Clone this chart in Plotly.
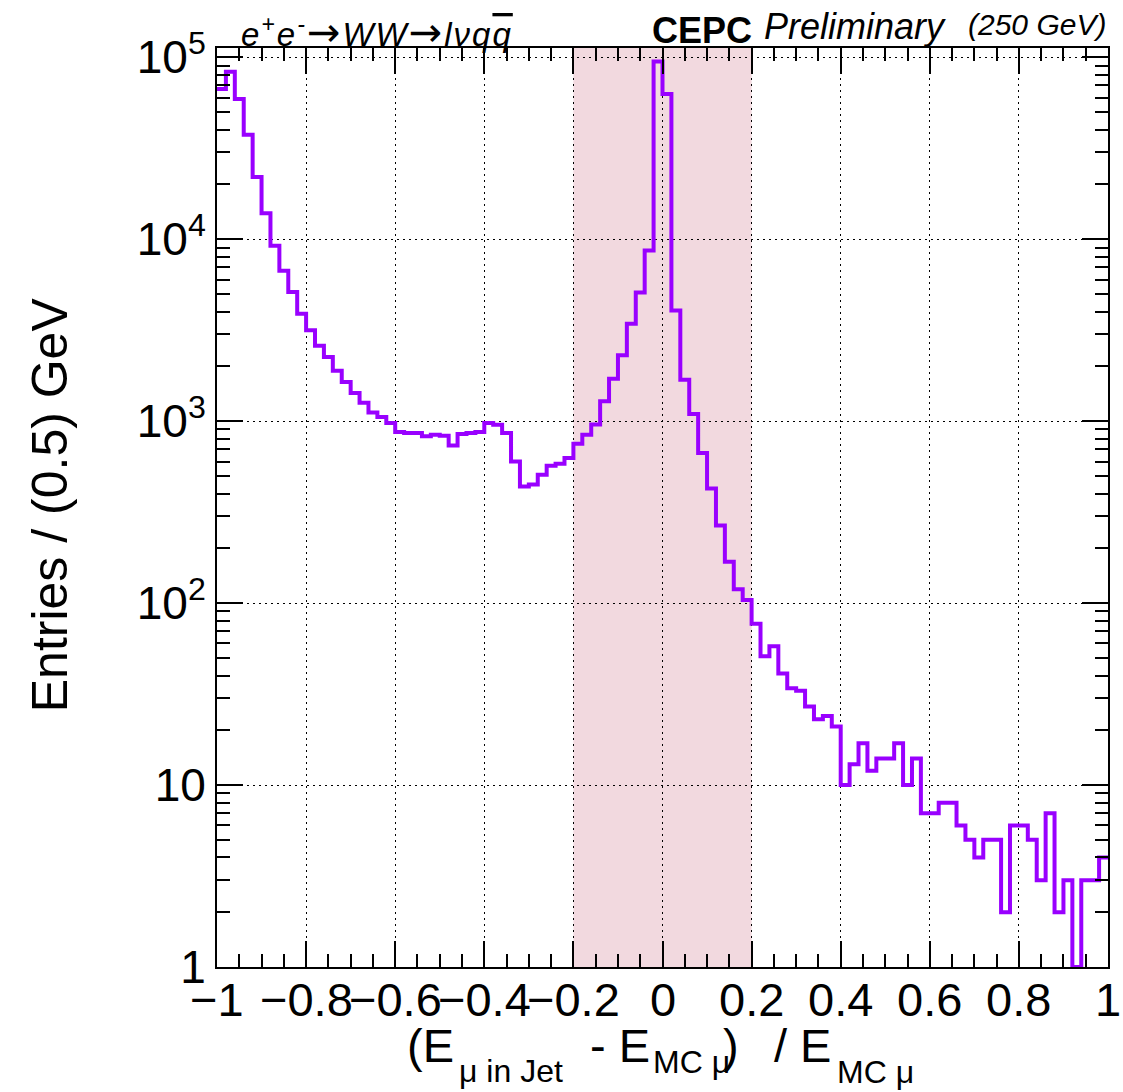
import numpy as np
import plotly.graph_objects as go

# ---------------- data ----------------
x_min, x_max, n_bins = -1.0, 1.0, 100
counts = [
    66900, 83200, 58900, 37500, 22000, 13900, 9200, 6710, 5130, 3900,
    3160, 2600, 2255, 1893, 1640, 1428, 1264, 1117, 1055, 977,
    873, 861, 861, 826, 843, 832, 736, 851, 861, 873,
    977, 957, 861, 601, 438, 448, 508, 569, 584, 628,
    752, 843, 960, 1285, 1713, 2300, 3435, 5100, 8670, 94800,
    62800, 4060, 1690, 1095, 668, 426, 267, 169, 119, 104,
    77, 51, 58, 41, 34, 33, 27, 23, 24, 21,
    10, 13, 17, 12, 14, 14, 17, 10, 14, 7,
    7, 8, 8, 6, 5, 4, 5, 5, 2, 6,
    6, 5, 3, 7, 2, 3, 1, 3, 3, 4,
]
band_lo, band_hi = -0.2, 0.2
x_tickvals = [-1, -0.8, -0.6, -0.4, -0.2, 0, 0.2, 0.4, 0.6, 0.8, 1]
x_ticktext = ["\u22121", "\u22120.8", "\u22120.6", "\u22120.4", "\u22120.2", "0",
              "0.2", "0.4", "0.6", "0.8", "1"]
y_tickvals = [1, 10, 100, 1000, 10000, 100000]
y_ticktext = ["1", "10", "10<sup>2</sup>", "10<sup>3</sup>", "10<sup>4</sup>", "10<sup>5</sup>"]

edges = np.linspace(x_min, x_max, n_bins + 1)
xs = list(edges)
ys = list(counts) + [counts[-1]]

# ---------------- layout geometry ----------------
W, H = 1123, 1092
L, R, T, B = 216.7, 1108.0, 47.7, 967.5
FONT = "Liberation Sans, Arial, Helvetica, sans-serif"

def px(xp):
    return (xp - L) / (R - L)

def py(yp):
    return (B - yp) / (B - T)

fig = go.Figure()
fig.add_trace(go.Scatter(
    x=xs, y=ys, mode="lines",
    line=dict(shape="hv", color="#9900ff", width=4),
    showlegend=False, hoverinfo="skip",
))

fig.add_shape(type="rect", xref="x", yref="paper", x0=band_lo, x1=band_hi, y0=0, y1=1,
              fillcolor="#f2d9df", line=dict(width=0), layer="below")

minor_x = [round(v, 4) for v in np.arange(-1.0, 1.0001, 0.05)]
minor_y = [k * 10 ** d for d in range(0, 5) for k in range(2, 10)]

fig.update_xaxes(
    range=[x_min, x_max], tickvals=x_tickvals, ticktext=x_ticktext,
    showticklabels=False, automargin=False,
    ticks="inside", ticklen=26, tickwidth=1.5, tickcolor="black",
    showline=True, linecolor="black", linewidth=2, mirror="allticks",
    showgrid=True, gridcolor="black", gridwidth=1, griddash="2px,4px",
    zeroline=False,
    minor=dict(tickvals=minor_x, ticks="inside", ticklen=13, tickwidth=1.5,
               tickcolor="black", showgrid=False),
)
fig.update_yaxes(
    type="log", range=[0, 5.051], tickvals=y_tickvals, ticktext=y_ticktext,
    automargin=False,
    ticks="inside", ticklen=26, tickwidth=1.5, tickcolor="black",
    showline=True, linecolor="black", linewidth=2, mirror="allticks",
    showgrid=True, gridcolor="black", gridwidth=1, griddash="2px,4px",
    zeroline=False,
    tickfont=dict(family=FONT, size=46, color="black"),
    minor=dict(tickvals=minor_y, ticks="inside", ticklen=13, tickwidth=1.5,
               tickcolor="black", showgrid=False),
)

ann = []
# x tick labels (placed on the x data scale)
for v, t in zip(x_tickvals, x_ticktext):
    ann.append(dict(text=t, x=v, xref="x", y=py(1000), yref="paper",
                    xanchor="center", yanchor="middle", showarrow=False,
                    font=dict(family=FONT, size=47, color="black")))

ARW = "<span style='font-family:DejaVu Sans;font-size:40px'>\u2192</span>"
top = []
top.append(dict(text="<span style='letter-spacing:2px'><i>e<sup>+</sup>e<sup>-</sup>" + ARW + "WW" + ARW +
                "l\u03bdq<span style='text-decoration:overline'>q</span></i></span>",
                x=px(239), y=py(32), xanchor="left", yanchor="middle",
                font=dict(family=FONT, size=33, color="black")))
top.append(dict(text="<b>CEPC</b>", x=px(650), y=py(30), xanchor="left", yanchor="middle",
                font=dict(family=FONT, size=36, color="black")))
top.append(dict(text="<i>Preliminary</i>", x=px(762), y=py(26), xanchor="left", yanchor="middle",
                font=dict(family=FONT, size=36, color="black")))
top.append(dict(text="<i>(250 GeV)</i>", x=px(1108), y=py(24), xanchor="right", yanchor="middle",
                font=dict(family=FONT, size=30, color="black")))
top.append(dict(text="Entries / (0.5) GeV", x=px(50), y=py(505), xanchor="center", yanchor="middle",
                textangle=-90, font=dict(family=FONT, size=50, color="black")))

# x-axis title built from pieces (main text and ROOT-style deep subscripts)
MAIN, SUB = 47, 32
pieces = [
    ("(E", 405, 1062, MAIN),
    ("\u03bc in Jet", 457, 1083, SUB),
    ("- E", 588, 1062, MAIN),
    ("MC \u03bc", 651, 1074, SUB),
    (")", 721, 1062, MAIN),
    ("/ E", 772, 1062, MAIN),
    ("MC \u03bc", 835, 1084, SUB),
]
for t, xl, base, sz in pieces:
    top.append(dict(text=t, x=px(xl), y=py(base - 0.3465 * sz), xanchor="left", yanchor="middle",
                    font=dict(family=FONT, size=sz, color="black")))
for a in top:
    a.update(xref="paper", yref="paper", showarrow=False)
ann += top

fig.update_layout(
    width=W, height=H,
    margin=dict(l=L, r=W - R, t=T, b=H - B, pad=0, autoexpand=False),
    paper_bgcolor="white", plot_bgcolor="rgba(0,0,0,0)",
    annotations=ann, showlegend=False,
)

fig.write_html("out.html")
